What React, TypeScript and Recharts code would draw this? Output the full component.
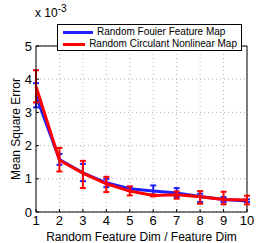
import { LineChart, Line, XAxis, YAxis, CartesianGrid, ErrorBar, ReferenceLine, Legend } from 'recharts'

// values in units of 1e-3
const dims = [1, 2, 3, 4, 5, 6, 7, 8, 9, 10]

const fourierMean = [3.5, 1.58, 1.18, 0.88, 0.7, 0.63, 0.57, 0.47, 0.38, 0.33]
const fourierLow = [3.15, 1.42, 0.93, 0.75, 0.63, 0.5, 0.45, 0.3, 0.3, 0.3]
const fourierHigh = [3.88, 1.75, 1.45, 1.0, 0.76, 0.8, 0.72, 0.55, 0.45, 0.38]

const circulantMean = [3.78, 1.56, 1.17, 0.85, 0.63, 0.5, 0.52, 0.46, 0.38, 0.36]
const circulantLow = [3.3, 1.22, 0.72, 0.6, 0.5, 0.47, 0.4, 0.25, 0.23, 0.23]
const circulantHigh = [4.27, 1.93, 1.54, 1.06, 0.77, 0.53, 0.62, 0.63, 0.61, 0.49]

const xTicks = [1, 2, 3, 4, 5, 6, 7, 8, 9, 10]
const yTicks = [0, 1, 2, 3, 4, 5]

const seriesNames = ['Random Fouier Feature Map', 'Random Circulant Nonlinear Map']
const seriesColors = ['#1f1fff', '#ff0000']

const data = dims.map((d, i) => ({
    dim: d,
    fourier: fourierMean[i],
    fourierErr: [fourierMean[i] - fourierLow[i], fourierHigh[i] - fourierMean[i]],
    circulant: circulantMean[i],
    circulantErr: [circulantMean[i] - circulantLow[i], circulantHigh[i] - circulantMean[i]],
}))

const font = '"Liberation Sans", Arial, sans-serif'

function LegendBox() {
    return (
        <div
            style={{
                border: '1px solid #000',
                background: '#fff',
                padding: '1px 4px 1px 5px',
                fontFamily: font,
                fontSize: 10,
                lineHeight: '12px',
                width: 185,
                height: 27,
                boxSizing: 'border-box',
            }}
        >
            {seriesNames.map((name, i) => (
                <div key={name} style={{ display: 'flex', alignItems: 'center' }}>
                    <span
                        style={{
                            display: 'inline-block',
                            width: 30,
                            height: 3,
                            background: seriesColors[i],
                            marginRight: 4,
                        }}
                    />
                    <span style={{ color: '#000', whiteSpace: 'nowrap' }}>{name}</span>
                </div>
            ))}
        </div>
    )
}

export default function App() {
    return (
        <div style={{ position: 'absolute', left: 0, top: 0, width: 273, height: 243, background: '#fff' }}>
            <div
                style={{
                    position: 'absolute',
                    left: 35,
                    top: 2,
                    fontFamily: font,
                    fontSize: 12,
                    color: '#000',
                    lineHeight: '14px',
                    zIndex: 2,
                }}
            >
                x 10<sup style={{ fontSize: 10, verticalAlign: 5 }}>-3</sup>
            </div>
            <LineChart
                width={273}
                height={243}
                data={data}
                margin={{ top: 19, right: 26, bottom: 0, left: 6 }}
                style={{ fontFamily: font }}
            >
                <CartesianGrid stroke="#b0b0b0" strokeDasharray="1 3" />
                <XAxis
                    dataKey="dim"
                    type="number"
                    domain={[1, 10]}
                    ticks={xTicks}
                    height={31}
                    stroke="#000"
                    tick={{ fill: '#000', fontSize: 13 }}
                    tickSize={-3}
                    tickMargin={7}
                    label={{ value: 'Random Feature Dim / Feature Dim', position: 'insideBottom', offset: 2, fill: '#000', fontSize: 12 }}
                />
                <YAxis
                    type="number"
                    domain={[0, 5]}
                    ticks={yTicks}
                    width={30}
                    stroke="#000"
                    tick={{ fill: '#000', fontSize: 13 }}
                    tickSize={-3}
                    tickMargin={7}
                    label={{ value: 'Mean Square Error', angle: -90, position: 'center', dx: -5, fill: '#000', fontSize: 12 }}
                />
                <ReferenceLine y={5} stroke="#000" />
                <ReferenceLine x={10} stroke="#000" />
                <Legend
                    verticalAlign="top"
                    align="left"
                    wrapperStyle={{ position: 'absolute', left: 57, top: 24, width: 'auto' }}
                    content={() => <LegendBox />}
                />
                <Line
                    dataKey="fourier"
                    stroke={seriesColors[0]}
                    strokeWidth={3}
                    dot={false}
                    isAnimationActive={false}
                >
                    <ErrorBar dataKey="fourierErr" direction="y" width={3} stroke={seriesColors[0]} strokeWidth={2} />
                </Line>
                <Line
                    dataKey="circulant"
                    stroke={seriesColors[1]}
                    strokeWidth={3}
                    dot={false}
                    isAnimationActive={false}
                >
                    <ErrorBar dataKey="circulantErr" direction="y" width={3} stroke={seriesColors[1]} strokeWidth={2} />
                </Line>
            </LineChart>
        </div>
    )
}
